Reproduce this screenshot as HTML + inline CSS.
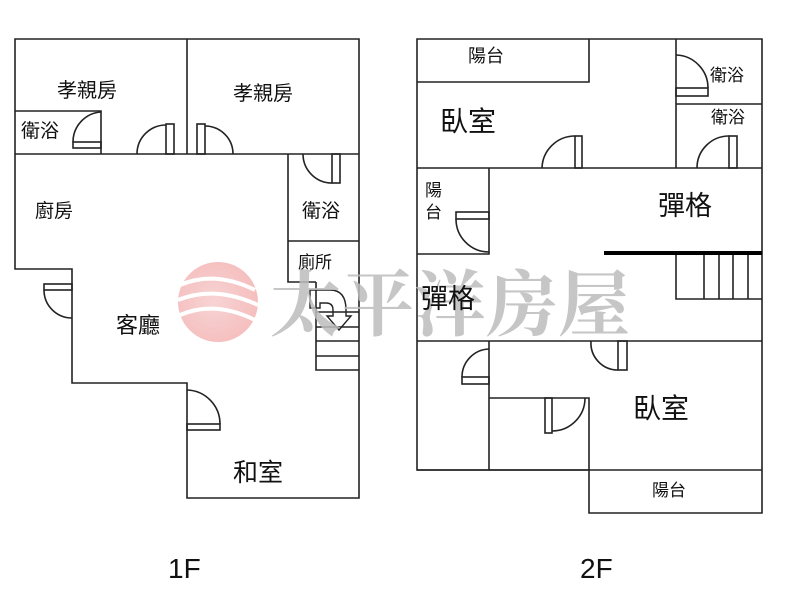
<!DOCTYPE html>
<html><head><meta charset="utf-8"><style>
body{margin:0;background:#fff;width:800px;height:603px;overflow:hidden}
text{font-family:"Liberation Sans","Noto Sans CJK TC",sans-serif;fill:#111}
</style></head><body>
<svg width="800" height="603" viewBox="0 0 800 603" xmlns="http://www.w3.org/2000/svg">
<defs><radialGradient id="g" cx="0.45" cy="0.5" r="0.55"><stop offset="0" stop-color="#f6c6c6"/><stop offset="1" stop-color="#f2a9a9"/></radialGradient></defs>
<g fill="none" stroke="#222" stroke-width="1.6">
<!-- 1F -->
<path d="M15,39 H359 V498 H187 V383 H72 V269 H15 Z"/>
<path d="M187,39 V154 M15,154 H359 M15,111 H101 V154"/>
<path d="M288,154 V282 H316 M288,241 H359"/>
<path d="M316,282 V370 H359 M316,312 H359 M316,327 H359 M316,341 H359 M316,356 H359"/>
<!-- doors 1F -->
<rect x="73" y="142" width="28" height="6"/><path d="M101,112 A30,30 0 0 0 73,142"/>
<rect x="166" y="124" width="8" height="30"/><path d="M166,125 A29,29 0 0 0 137,154"/>
<rect x="197" y="124" width="8" height="30"/><path d="M205,126 A28,28 0 0 1 233,154"/>
<rect x="332" y="154" width="8" height="29"/><path d="M332,183 A29,29 0 0 1 303,154"/>
<rect x="44" y="284" width="28" height="6"/><path d="M44,290 A28,28 0 0 0 72,318"/>
<rect x="187" y="424" width="33" height="6"/><path d="M187,390 A34,34 0 0 1 220,424"/>
<path d="M310,290 H330 Q346,290 346,310 V316 H351 L339,330 L327,316 H333 V310 Q333,303 326,303 H320 V308 H310 Z" stroke-width="1.4"/>
<!-- 2F -->
<path d="M417,39 H762 V513 H589 V470 H417 Z"/>
<path d="M417,82 H589 V39 M676,39 V168 M676,104 H762 M417,168 H762"/>
<path d="M417,254 H489 V168"/>
<path d="M676,254 V299 H762 M704,254 V299 M719,254 V299 M733,254 V299 M748,254 V299"/>
<path d="M417,341 H762 M489,341 V470 M489,398 H589 V470 M417,470 H762"/>
<rect x="676" y="88" width="32" height="8"/><path d="M676,55 A33,33 0 0 1 708,88"/>
<rect x="729" y="136" width="8" height="32"/><path d="M729,136 A32,32 0 0 0 697,168"/>
<rect x="575" y="136" width="7" height="32"/><path d="M575,136 A33,33 0 0 0 542,168"/>
<rect x="456" y="212" width="33" height="7"/><path d="M456,219 A33,33 0 0 0 489,252"/>
<rect x="618" y="341" width="9" height="29"/><path d="M591,341 A27,27 0 0 0 618,370"/>
<rect x="462" y="377" width="27" height="7"/><path d="M489,349 A28,28 0 0 0 462,377"/>
<rect x="545" y="398" width="7" height="35"/><path d="M585,398 A33,33 0 0 1 552,431"/>
</g>
<line x1="604" y1="253" x2="762" y2="253" stroke="#000" stroke-width="4"/>
<!-- watermark -->
<g opacity="0.75">
<circle cx="218" cy="302" r="40" fill="url(#g)"/>
<path d="M180,285 Q215,270 255,290 M178,300 Q215,285 258,305 M180,315 Q215,300 255,320" stroke="#fff" stroke-width="4" fill="none"/>
</g>
<text x="270" y="330" font-family="Liberation Serif,'Noto Serif CJK SC',serif" font-size="72" font-weight="bold" style="fill:#bdbdbd;font-family:'Liberation Serif','Noto Serif CJK SC',serif" opacity="0.85">太平洋房屋</text>
<!-- labels 1F -->
<g font-size="20">
<text x="57" y="97">孝親房</text>
<text x="233" y="100">孝親房</text>
<text x="21" y="137" font-size="19">衛浴</text>
<text x="35" y="217" font-size="19">廚房</text>
<text x="302" y="217" font-size="19">衛浴</text>
<text x="298" y="268" font-size="17">廁所</text>
<text x="116" y="333" font-size="22">客廳</text>
<text x="233" y="481" font-size="25">和室</text>
<!-- labels 2F -->
<text x="468" y="62" font-size="18">陽台</text>
<text x="440" y="131" font-size="28">臥室</text>
<text x="710" y="81" font-size="17">衛浴</text>
<text x="711" y="123" font-size="17">衛浴</text>
<text x="425" y="196" font-size="17">陽</text>
<text x="425" y="218" font-size="17">台</text>
<text x="658" y="215" font-size="27">彈格</text>
<text x="421" y="308" font-size="27">彈格</text>
<text x="633" y="418" font-size="28">臥室</text>
<text x="652" y="496" font-size="17">陽台</text>
<text x="168" y="578" font-size="28">1F</text>
<text x="580" y="578" font-size="28">2F</text>
</g>
</svg>
</body></html>
